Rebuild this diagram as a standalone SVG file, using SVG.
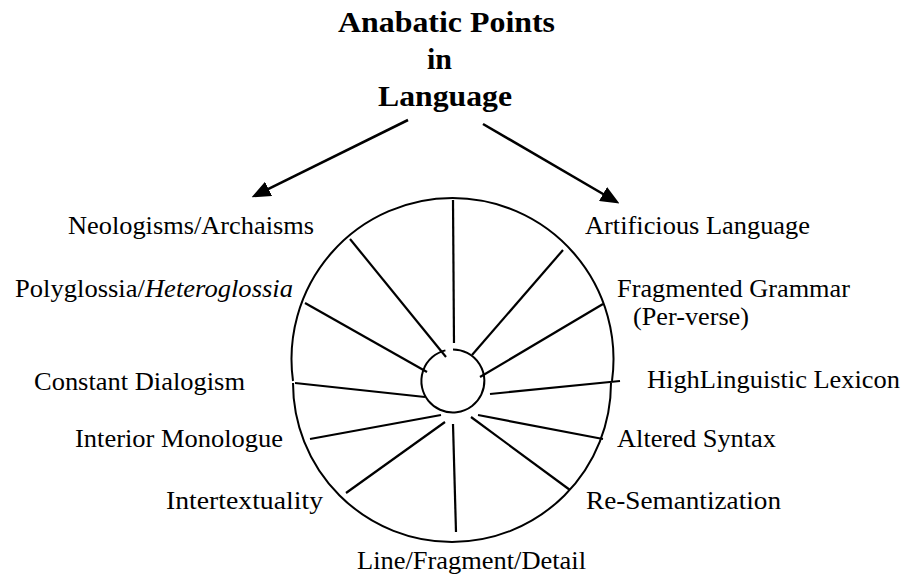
<svg xmlns="http://www.w3.org/2000/svg" width="908" height="581" viewBox="0 0 908 581">
  <style>
    .title { font-family: "Liberation Serif", "Times New Roman", serif; font-weight: bold; font-size: 30px; fill: #000; }
    .label { font-family: "Liberation Serif", "Times New Roman", serif; font-size: 24.5px; fill: #000; }
    .rim { fill: none; stroke: #000; stroke-width: 2; }
    .spoke { stroke: #000; stroke-width: 2.2; stroke-linecap: butt; }
    .arrow { stroke: #000; stroke-width: 2.6; fill: none; }
  </style>
  <defs>
    <marker id="head" viewBox="0 0 19 16" markerWidth="19" markerHeight="16" refX="4" refY="8" orient="auto" markerUnits="userSpaceOnUse">
      <path d="M0,0 L19,8 L0,16 Z" fill="#000"/>
    </marker>
  </defs>
  <rect width="908" height="581" fill="#fff"/>

  <!-- heading -->
  <g id="title">
    <text class="title" x="338" y="32" textLength="217" lengthAdjust="spacingAndGlyphs">Anabatic Points</text>
    <text class="title" x="427" y="68.5" textLength="25" lengthAdjust="spacingAndGlyphs">in</text>
    <text class="title" x="378" y="105.5" textLength="134" lengthAdjust="spacingAndGlyphs">Language</text>
  </g>

  <!-- arrows from the heading -->
  <g id="connectors">
    <line class="arrow" x1="408" y1="120" x2="265" y2="190.7" marker-end="url(#head)"/>
    <line class="arrow" x1="483" y1="124" x2="606.5" y2="196" marker-end="url(#head)"/>
  </g>

  <!-- the wheel: two outer half-rims, hub and spokes -->
  <g id="wheel">
    <path class="rim" d="M293,381 A161,161 0 1 1 612,381"/>
    <path class="rim" d="M293,383 A159,159 0 0 0 611,383"/>
    <path class="rim" d="M453,349.5 A31.5,31.5 0 1 1 445.4,350.4"/>
    <line class="spoke" x1="453" y1="200" x2="454" y2="343"/>
    <line class="spoke" x1="350" y1="239" x2="446" y2="357"/>
    <line class="spoke" x1="305" y1="303" x2="427" y2="372"/>
    <line class="spoke" x1="563" y1="250" x2="472" y2="355"/>
    <line class="spoke" x1="603" y1="304" x2="480" y2="377"/>
    <line class="spoke" x1="295" y1="383" x2="425" y2="397"/>
    <line class="spoke" x1="490" y1="394" x2="620" y2="381"/>
    <line class="spoke" x1="310" y1="439" x2="441" y2="415"/>
    <line class="spoke" x1="478" y1="415" x2="603" y2="439"/>
    <line class="spoke" x1="346" y1="493" x2="445" y2="422"/>
    <line class="spoke" x1="471" y1="417" x2="570" y2="490"/>
    <line class="spoke" x1="453" y1="424" x2="456" y2="532"/>
  </g>

  <!-- left-hand labels -->
  <g id="neologisms">
    <text class="label" x="68" y="233.5" textLength="246" lengthAdjust="spacingAndGlyphs">Neologisms/Archaisms</text>
  </g>
  <g id="polyglossia">
    <text class="label" x="15" y="297" textLength="278" lengthAdjust="spacingAndGlyphs">Polyglossia/<tspan font-style="italic">Heteroglossia</tspan></text>
  </g>
  <g id="dialogism">
    <text class="label" x="34" y="390" textLength="211" lengthAdjust="spacingAndGlyphs">Constant Dialogism</text>
  </g>
  <g id="monologue">
    <text class="label" x="75" y="447" textLength="208" lengthAdjust="spacingAndGlyphs">Interior Monologue</text>
  </g>
  <g id="intertextuality">
    <text class="label" x="166" y="509" textLength="157" lengthAdjust="spacingAndGlyphs">Intertextuality</text>
  </g>
  <g id="line-fragment">
    <text class="label" x="357" y="569" textLength="229" lengthAdjust="spacingAndGlyphs">Line/Fragment/Detail</text>
  </g>

  <!-- right-hand labels -->
  <g id="artificious">
    <text class="label" x="585" y="234" textLength="225" lengthAdjust="spacingAndGlyphs">Artificious Language</text>
  </g>
  <g id="grammar">
    <text class="label" x="617" y="297" textLength="233" lengthAdjust="spacingAndGlyphs">Fragmented Grammar</text>
    <text class="label" x="633" y="324.5" textLength="116" lengthAdjust="spacingAndGlyphs">(Per-verse)</text>
  </g>
  <g id="lexicon">
    <text class="label" x="647" y="387.5" textLength="253" lengthAdjust="spacingAndGlyphs">HighLinguistic Lexicon</text>
  </g>
  <g id="syntax">
    <text class="label" x="617" y="447" textLength="159" lengthAdjust="spacingAndGlyphs">Altered Syntax</text>
  </g>
  <g id="semantization">
    <text class="label" x="586" y="509" textLength="195" lengthAdjust="spacingAndGlyphs">Re-Semantization</text>
  </g>
</svg>
